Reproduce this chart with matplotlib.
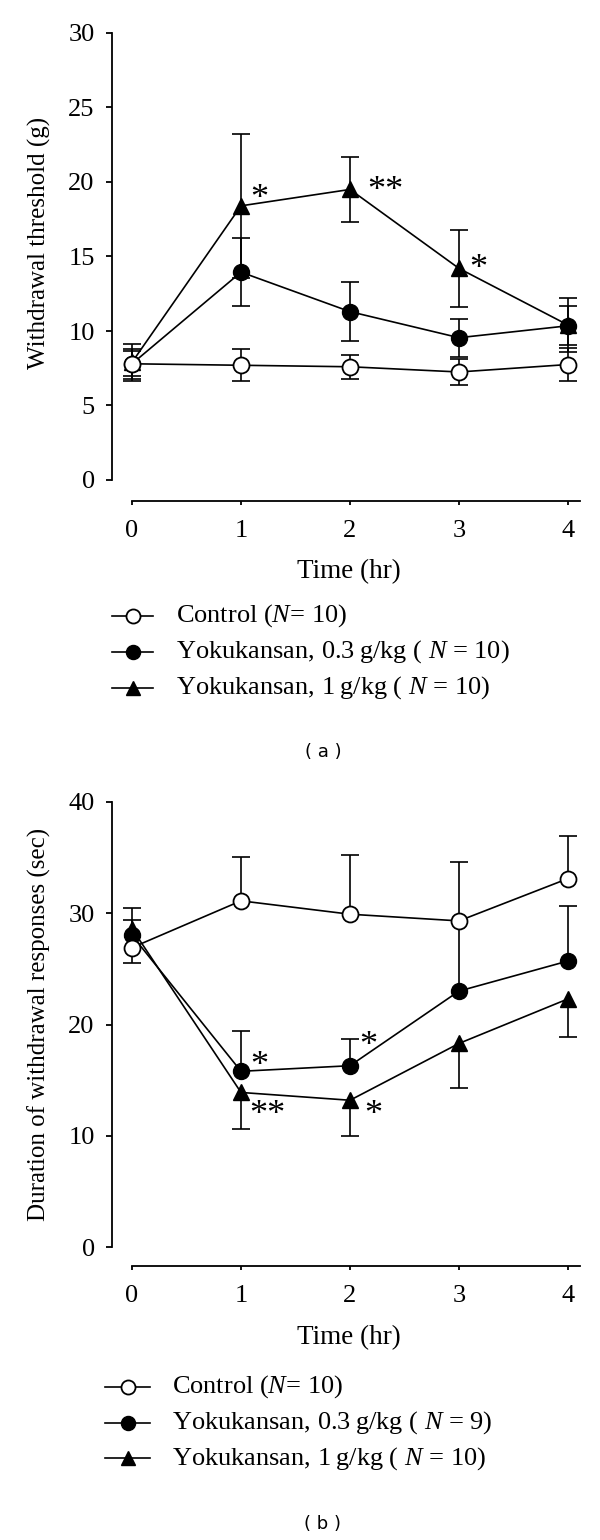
import numpy as np
import matplotlib
matplotlib.use("Agg")
import matplotlib.pyplot as plt
from matplotlib.lines import Line2D

plt.rcParams['font.family'] = ['Liberation Serif', 'DejaVu Serif']
plt.rcParams['mathtext.fontset'] = 'custom'
plt.rcParams['mathtext.rm'] = 'Liberation Serif'
plt.rcParams['mathtext.it'] = 'Liberation Serif:italic'

# ---------------- data ----------------
time_hr = [0, 1, 2, 3, 4]
xticks = [0, 1, 2, 3, 4]

# panel (a) withdrawal threshold (g), mean and symmetric SEM
a_control = [7.8, 7.7, 7.6, 7.25, 7.75]
a_control_err = [1.0, 1.07, 0.8, 0.85, 1.1]
a_low = [7.8, 13.95, 11.3, 9.55, 10.35]
a_low_err = [0.85, 2.3, 2.0, 1.27, 1.3]
a_high = [7.9, 18.4, 19.5, 14.2, 10.4]
a_high_err = [1.25, 4.85, 2.2, 2.6, 1.8]
a_yticks = [0, 5, 10, 15, 20, 25, 30]
a_stars = ["*", "**", "*"]
a_star_x = [1.17, 2.32, 3.18]
a_star_y = [19.5, 20.0, 14.8]

# panel (b) duration of withdrawal responses (sec); lower / upper error shown
b_control = [26.9, 31.1, 29.9, 29.3, 33.1]
b_control_lo = [1.4, 0, 0, 0, 0]
b_control_hi = [0, 3.9, 5.3, 0, 3.8]
b_low = [28.0, 15.8, 16.3, 23.0, 25.7]
b_low_lo = [0, 0, 0, 0, 0]
b_low_hi = [1.4, 3.6, 2.4, 11.6, 4.9]
b_high = [28.6, 13.9, 13.2, 18.3, 22.3]
b_high_lo = [0, 3.3, 3.2, 4.0, 3.4]
b_high_hi = [1.9, 0, 0, 0, 0]
b_yticks = [0, 10, 20, 30, 40]
b_stars = ["*", "**", "*", "*"]
b_star_x = [1.17, 1.24, 2.17, 2.21]
b_star_y = [17.1, 12.7, 18.9, 12.7]

a_labels = ["Control (" + "$N$" + "= 10)",
            "Yokukansan, 0.3\u2009g/kg ( " + "$N$" + " = 10)",
            "Yokukansan, 1\u2009g/kg ( " + "$N$" + " = 10)"]
b_labels = ["Control (" + "$N$" + "= 10)",
            "Yokukansan, 0.3\u2009g/kg ( " + "$N$" + " = 9)",
            "Yokukansan, 1\u2009g/kg ( " + "$N$" + " = 10)"]

# ---------------- styles ----------------
styles = [dict(marker='^', mfc='black', mec='black', ms=11),
          dict(marker='o', mfc='black', mec='black', ms=11.5),
          dict(marker='o', mfc='white', mec='black', ms=11.5, mew=1.3)]
LW = 1.2
CAP = 13

W, H = 600, 1540
fig = plt.figure(figsize=(W / 100, H / 100), dpi=100)


def px_ax(left, right, top, bottom):
    return fig.add_axes([left / W, 1 - bottom / H, (right - left) / W, (bottom - top) / H])


def draw_err(ax, x, y, lo, hi, z):
    x = np.asarray(x, float); y = np.asarray(y, float)
    lo = np.asarray(lo, float); hi = np.asarray(hi, float)
    m = (lo > 0) | (hi > 0)
    ax.vlines(x[m], (y - lo)[m], (y + hi)[m], colors='black', lw=LW, zorder=z)
    ml = lo > 0
    ax.plot(x[ml], (y - lo)[ml], ls='none', marker='_', ms=CAP, mew=LW, color='black', zorder=z)
    mh = hi > 0
    ax.plot(x[mh], (y + hi)[mh], ls='none', marker='_', ms=CAP, mew=LW, color='black', zorder=z)


def setup(ax, ylim, yticks, outward):
    x0 = -20 / 109
    x1 = (585 - 132) / 109
    ax.set_xlim(x0, x1)
    ax.set_ylim(*ylim)
    for s in ['top', 'right']:
        ax.spines[s].set_visible(False)
    ax.spines['left'].set_bounds(ylim[0], ylim[1])
    ax.spines['bottom'].set_position(('outward', outward))
    ax.spines['bottom'].set_bounds(0, 4.11)
    for s in ['left', 'bottom']:
        ax.spines[s].set_linewidth(1.3)
    ax.set_xticks(xticks)
    ax.set_yticks(yticks)
    ax.tick_params(axis='y', direction='out', length=4.5, width=1.3, pad=8, labelsize=19)
    ax.tick_params(axis='x', direction='out', length=3, width=1.3, pad=11, labelsize=19)
    ax.patch.set_alpha(0)


def legend(labels, ys, x0, x1, text_x):
    for lab, y, st in zip(labels, ys, styles[::-1]):
        st2 = dict(st)
        st2['ms'] = st['ms'] * 0.88
        yy = 1 - y / H
        fig.add_artist(Line2D([x0 / W, (x0 + x1) / 2 / W, x1 / W], [yy, yy, yy], color='black',
                              lw=LW, markevery=[1], transform=fig.transFigure, **st2))
        fig.text(text_x / W, yy, lab, fontsize=19, va='center', ha='left')


def stars(ax, labels, xs, ys):
    for s, x, y in zip(labels, xs, ys):
        ax.annotate(s, (x, y), xytext=(0, -13), textcoords='offset points',
                    fontsize=26, ha='center', va='baseline', zorder=10)


# ---------------- panel (a) ----------------
axa = px_ax(112, 585, 33, 480)
setup(axa, (0, 30), a_yticks, 15)
series_a = [(a_high, a_high_err), (a_low, a_low_err), (a_control, a_control_err)]
for i, ((y, e), st) in enumerate(zip(series_a, styles)):
    draw_err(axa, time_hr, y, e, e, 2 + i * 2)
    axa.plot(time_hr, y, color='black', lw=LW, zorder=3 + i * 2, clip_on=False, **st)
stars(axa, a_stars, a_star_x, a_star_y)
axa.set_xlabel("Time (hr)", fontsize=19.5, labelpad=12)
axa.set_ylabel("Withdrawal threshold (g)", fontsize=18)
axa.yaxis.set_label_coords(-0.128, 0.53)
legend(a_labels, [616, 652, 688], 112, 153, 176)
fig.text(323 / W, 1 - 752 / H, "( a )", family='DejaVu Sans', fontsize=13, ha='center', va='center')

# ---------------- panel (b) ----------------
axb = px_ax(112, 585, 801.7, 1247.3)
setup(axb, (0, 40), b_yticks, 13.5)
series_b = [(b_high, b_high_lo, b_high_hi), (b_low, b_low_lo, b_low_hi),
            (b_control, b_control_lo, b_control_hi)]
for i, ((y, lo, hi), st) in enumerate(zip(series_b, styles)):
    draw_err(axb, time_hr, y, lo, hi, 2 + i * 2)
    axb.plot(time_hr, y, color='black', lw=LW, zorder=3 + i * 2, clip_on=False, **st)
stars(axb, b_stars, b_star_x, b_star_y)
axb.set_xlabel("Time (hr)", fontsize=19.5, labelpad=13)
axb.set_ylabel("Duration of withdrawal responses (sec)", fontsize=18)
axb.yaxis.set_label_coords(-0.128, 0.5)
legend(b_labels, [1386.7, 1422.7, 1458.3], 105, 150, 172)
fig.text(323 / W, 1 - 1524 / H, "( b )", family='DejaVu Sans', fontsize=13, ha='center', va='center')

fig.savefig("out.png", dpi=100)
